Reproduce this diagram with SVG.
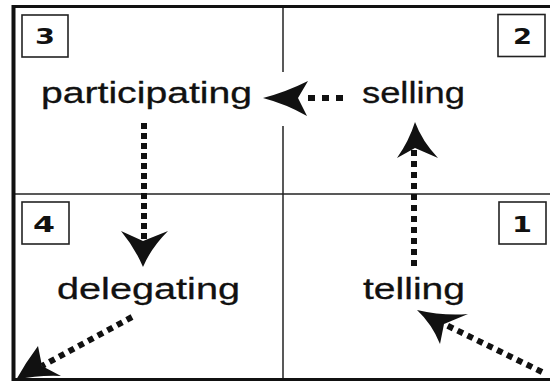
<svg xmlns="http://www.w3.org/2000/svg" width="550" height="381" viewBox="0 0 550 381">
  <style>
    .frame { stroke: #111; fill: none; }
    .grid { stroke: #222; stroke-width: 1.5; fill: none; }
    .numbox { fill: #fff; stroke: #222; stroke-width: 1.6; }
    .num { font-family: "DejaVu Sans", "Liberation Sans", sans-serif; font-weight: bold; font-size: 22px; fill: #111; }
    .label { font-family: "Liberation Sans", Arial, sans-serif; font-size: 29px; fill: #111; stroke: #111; stroke-width: 0.3; }
    .dots { stroke: #111; stroke-width: 6; fill: none; stroke-dasharray: 6 5; }
    .head { fill: #111; stroke: none; }
  </style>
  <rect width="550" height="381" fill="#fff"/>

  <g id="grid">
    <line class="grid" x1="283" y1="6" x2="283" y2="72"/>
    <line class="grid" x1="283" y1="126" x2="283" y2="379"/>
    <line class="grid" x1="13" y1="194" x2="550" y2="194"/>
  </g>

  <g id="connectors">
    <!-- selling -> participating -->
    <line class="dots" x1="343" y1="98" x2="303" y2="98" style="stroke-dasharray:7 7"/>
    <path class="head" d="M263,98 Q286,92 308,81 L298,98 L307,116 Q286,104 263,98 Z"/>
    <!-- participating -> delegating -->
    <line class="dots" x1="144" y1="123" x2="144" y2="240" style="stroke-dasharray:6 4"/>
    <path class="head" d="M143,267 Q135,248 121,231 L143,241 L168,231 Q151,248 143,267 Z"/>
    <!-- telling -> selling -->
    <line class="dots" x1="414" y1="266" x2="414" y2="148" style="stroke-dasharray:6 5"/>
    <path class="head" d="M415,122 Q409,141 397,158 L415,148 L438,158 Q422,141 415,122 Z"/>
    <!-- corner -> telling -->
    <line class="dots" x1="542" y1="372" x2="444" y2="324"/>
    <path class="head" d="M417,310 Q443,316 468,314 L444,324 L440,344 Q432,324 417,310 Z"/>
    <!-- delegating -> corner -->
    <line class="dots" x1="132" y1="317" x2="42" y2="366"/>
    <path class="head" d="M16,380 Q26,362 38,346 L42,366 L61,376 Q38,375 16,380 Z"/>
  </g>

  <g id="frame">
    <line class="frame" x1="12" y1="6.5" x2="550" y2="6.5" stroke-width="3"/>
    <line class="frame" x1="13.5" y1="5" x2="13.5" y2="381" stroke-width="4"/>
    <line class="frame" x1="12" y1="379.5" x2="550" y2="379.5" stroke-width="3"/>
  </g>

  <g id="box3">
    <rect class="numbox" x="22" y="15" width="46" height="42"/>
    <text class="num" x="35" y="44" textLength="20" lengthAdjust="spacingAndGlyphs">3</text>
  </g>
  <g id="box2">
    <rect class="numbox" x="498" y="14.5" width="47" height="42"/>
    <text class="num" x="513" y="44" textLength="19" lengthAdjust="spacingAndGlyphs">2</text>
  </g>
  <g id="box4">
    <rect class="numbox" x="22" y="202" width="47" height="42"/>
    <text class="num" x="33" y="232" textLength="22" lengthAdjust="spacingAndGlyphs">4</text>
  </g>
  <g id="box1">
    <rect class="numbox" x="499" y="202" width="47" height="42"/>
    <text class="num" x="512" y="232" textLength="20" lengthAdjust="spacingAndGlyphs">1</text>
  </g>

  <g id="participating">
    <text class="label" x="41" y="103" textLength="211" lengthAdjust="spacingAndGlyphs">participating</text>
  </g>
  <g id="selling">
    <text class="label" x="362" y="103" textLength="103" lengthAdjust="spacingAndGlyphs">selling</text>
  </g>
  <g id="delegating">
    <text class="label" x="57" y="299" textLength="183" lengthAdjust="spacingAndGlyphs">delegating</text>
  </g>
  <g id="telling">
    <text class="label" x="363" y="299" textLength="102" lengthAdjust="spacingAndGlyphs">telling</text>
  </g>
</svg>
